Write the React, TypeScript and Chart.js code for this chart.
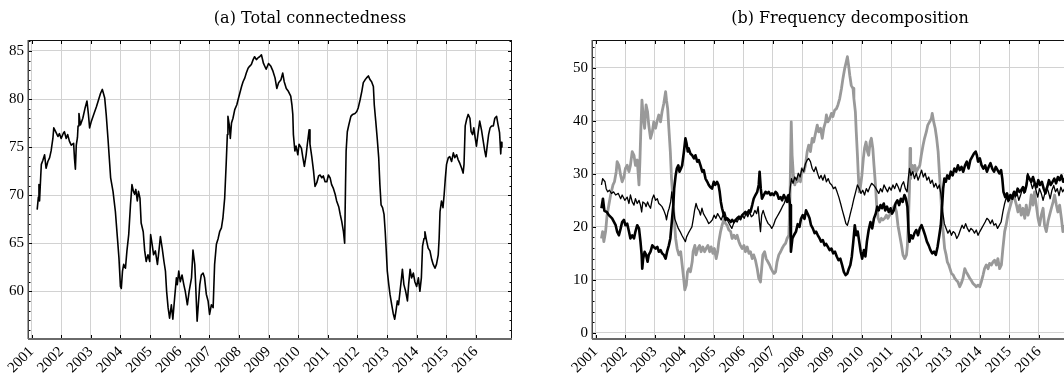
import React, { useEffect, useRef } from "react";
import { Chart, registerables } from "chart.js";

Chart.register(...registerables);

// ---------- tick labels ----------
const yearTicks = [2001, 2002, 2003, 2004, 2005, 2006, 2007, 2008, 2009, 2010, 2011, 2012, 2013, 2014, 2015, 2016];
const totalYTicks = [60, 65, 70, 75, 80, 85];
const freqYTicks = [0, 10, 20, 30, 40, 50];

const panelTitles = ["(a) Total connectedness", "(b) Frequency decomposition"];

// ---------- (a) total connectedness ----------
const totalYears = [
  2001.19, 2001.23, 2001.25, 2001.27, 2001.31, 2001.33, 2001.38, 2001.44, 2001.49, 2001.55, 2001.61, 2001.66, 2001.72, 2001.75, 2001.83, 2001.89, 2001.94,
  2002.0, 2002.08, 2002.11, 2002.17, 2002.22, 2002.28, 2002.34, 2002.42, 2002.45, 2002.48, 2002.51, 2002.55, 2002.57, 2002.6, 2002.65, 2002.73, 2002.81, 2002.87, 2002.92, 2002.96,
  2003.02, 2003.11, 2003.19, 2003.26, 2003.33, 2003.39, 2003.47, 2003.52, 2003.58, 2003.67, 2003.75, 2003.83, 2003.9, 2003.95,
  2004.0, 2004.03, 2004.07, 2004.11, 2004.17, 2004.22, 2004.28, 2004.34, 2004.39, 2004.44, 2004.48, 2004.52, 2004.57, 2004.61, 2004.66, 2004.7, 2004.77, 2004.82, 2004.87, 2004.93, 2004.99,
  2005.02, 2005.07, 2005.12, 2005.18, 2005.25, 2005.3, 2005.35, 2005.41, 2005.47, 2005.52, 2005.56, 2005.61, 2005.66, 2005.72, 2005.77, 2005.83, 2005.89, 2005.92, 2005.97,
  2006.02, 2006.08, 2006.14, 2006.19, 2006.26, 2006.32, 2006.4, 2006.45, 2006.51, 2006.54, 2006.59, 2006.63, 2006.68, 2006.73, 2006.79, 2006.84, 2006.9, 2006.96,
  2007.01, 2007.07, 2007.13, 2007.18, 2007.24, 2007.3, 2007.35, 2007.41, 2007.46, 2007.52, 2007.57, 2007.61, 2007.63, 2007.68, 2007.71, 2007.75, 2007.8, 2007.86, 2007.93, 2007.97,
  2008.03, 2008.09, 2008.14, 2008.2, 2008.25, 2008.31, 2008.36, 2008.42, 2008.48, 2008.53, 2008.59, 2008.65, 2008.7, 2008.76, 2008.83, 2008.92,
  2009.0, 2009.08, 2009.15, 2009.22, 2009.28, 2009.34, 2009.42, 2009.48, 2009.53, 2009.6, 2009.67, 2009.75, 2009.79, 2009.82, 2009.84, 2009.89, 2009.93, 2009.99,
  2010.03, 2010.11, 2010.16, 2010.21, 2010.27, 2010.31, 2010.37, 2010.4, 2010.46, 2010.52, 2010.57, 2010.63, 2010.69, 2010.74, 2010.8, 2010.85, 2010.91, 2010.97,
  2011.02, 2011.08, 2011.13, 2011.19, 2011.25, 2011.3, 2011.37, 2011.42, 2011.47, 2011.53, 2011.57, 2011.6, 2011.62, 2011.66, 2011.71, 2011.78, 2011.84, 2011.92, 2011.98,
  2012.03, 2012.09, 2012.15, 2012.2, 2012.26, 2012.31, 2012.37, 2012.43, 2012.48, 2012.54, 2012.57, 2012.62, 2012.67, 2012.72, 2012.76, 2012.8, 2012.85, 2012.9, 2012.94, 2012.97,
  2013.01, 2013.06, 2013.1, 2013.16, 2013.21, 2013.26, 2013.3, 2013.35, 2013.39, 2013.44, 2013.49, 2013.52, 2013.57, 2013.63, 2013.69, 2013.73, 2013.78, 2013.83, 2013.89, 2013.94,
  2014.0, 2014.06, 2014.11, 2014.16, 2014.2, 2014.25, 2014.28, 2014.34, 2014.39, 2014.45, 2014.51, 2014.56, 2014.62, 2014.67, 2014.73, 2014.76, 2014.79, 2014.84, 2014.89, 2014.93, 2014.97,
  2015.01, 2015.07, 2015.12, 2015.18, 2015.24, 2015.29, 2015.35, 2015.4, 2015.46, 2015.52, 2015.57, 2015.6, 2015.64, 2015.69, 2015.74, 2015.8, 2015.84, 2015.89, 2015.93, 2015.98,
  2016.02, 2016.08, 2016.13, 2016.19, 2016.25, 2016.3, 2016.34, 2016.39, 2016.43, 2016.48, 2016.53, 2016.59, 2016.64, 2016.7, 2016.75, 2016.8, 2016.84, 2016.86, 2016.88,
];
const totalValues = [
  68.5, 69.8, 71.1, 69.4, 72.0, 73.2, 73.6, 74.2, 72.8, 73.5, 73.9, 74.6, 75.9, 77.0, 76.5, 76.1, 76.4,
  75.9, 76.5, 76.6, 75.9, 76.3, 75.6, 75.2, 75.4, 73.8, 72.7, 75.2, 76.0, 77.2, 78.5, 77.3, 78.0, 79.1, 79.8, 78.4, 77.0,
  77.7, 78.5, 79.2, 79.9, 80.6, 81.0, 80.1, 78.4, 75.9, 71.8, 70.4, 68.3, 65.5, 63.5,
  60.5, 60.3, 62.1, 62.8, 62.4, 64.2, 65.9, 69.0, 71.1, 70.4, 70.1, 70.6, 69.4, 70.4, 69.7, 67.1, 66.2, 64.2, 63.1, 63.8, 63.1,
  65.9, 64.9, 63.8, 64.2, 62.8, 64.2, 65.7, 64.5, 63.1, 62.1, 60.0, 58.3, 57.2, 58.6, 57.1, 59.3, 61.4, 60.7, 62.1,
  61.0, 61.7, 60.7, 60.0, 58.6, 60.0, 61.4, 64.3, 62.8, 60.7, 56.9, 58.6, 60.7, 61.7, 61.9, 61.4, 59.7, 59.0,
  57.6, 58.6, 58.3, 62.8, 64.9, 65.5, 66.2, 66.6, 67.6, 69.7, 73.2, 76.3, 78.2, 77.2, 75.9, 77.5, 78.0, 78.9, 79.4, 79.9,
  80.6, 81.3, 81.8, 82.2, 82.7, 83.2, 83.4, 83.6, 84.1, 84.4, 84.1, 84.3, 84.4, 84.6, 83.7, 83.1,
  83.7, 83.4, 82.9, 82.2, 81.1, 81.7, 82.0, 82.7, 81.8, 81.1, 80.8, 80.3, 79.4, 78.4, 76.3, 74.6, 75.1, 74.2,
  75.3, 74.9, 73.9, 73.0, 74.2, 75.3, 76.8, 75.3, 74.0, 72.5, 70.9, 71.3, 72.0, 72.1, 71.8, 72.0, 71.4, 71.4,
  72.1, 71.8, 71.1, 70.7, 70.1, 69.4, 68.8, 68.0, 67.3, 66.2, 65.0, 71.1, 74.6, 76.6, 77.3, 78.2, 78.4, 78.5, 78.7,
  79.1, 79.9, 80.8, 81.7, 82.0, 82.2, 82.4, 82.0, 81.8, 81.3, 79.4, 77.7, 75.9, 73.9, 71.1, 69.0, 68.7, 68.0, 66.2, 64.5,
  62.1, 60.7, 59.7, 58.6, 57.7, 57.1, 57.9, 59.0, 58.6, 60.0, 61.4, 62.3, 60.7, 60.0, 59.0, 60.7, 62.3, 61.4, 61.9, 61.0,
  60.5, 61.4, 60.0, 61.4, 64.7, 65.5, 66.2, 65.2, 64.5, 64.2, 63.3, 62.8, 62.4, 62.8, 63.8, 65.5, 68.3, 69.4, 68.7, 70.1, 71.8,
  73.2, 73.9, 74.0, 73.5, 74.4, 73.9, 74.2, 73.7, 73.3, 72.8, 72.3, 73.2, 77.2, 77.9, 78.4, 78.0, 76.6, 76.3, 77.0, 75.9,
  75.1, 76.6, 77.7, 76.8, 75.6, 74.6, 74.0, 75.3, 76.3, 77.0, 77.2, 77.2, 78.0, 78.2, 77.3, 76.5, 74.3, 75.5, 75.0,
];

// ---------- (b) frequency decomposition: grey component ----------
const greyYears = [
  2001.2, 2001.24, 2001.28, 2001.34, 2001.39, 2001.45, 2001.51, 2001.59, 2001.64, 2001.7, 2001.73, 2001.79, 2001.85, 2001.9, 2001.96,
  2002.01, 2002.07, 2002.13, 2002.18, 2002.24, 2002.3, 2002.35, 2002.41, 2002.47, 2002.5, 2002.53, 2002.57, 2002.61, 2002.66, 2002.71, 2002.76, 2002.8, 2002.86, 2002.92, 2002.97,
  2003.03, 2003.09, 2003.14, 2003.2, 2003.25, 2003.31, 2003.37, 2003.4, 2003.44, 2003.48, 2003.53, 2003.57, 2003.62, 2003.66, 2003.71, 2003.76, 2003.82, 2003.88, 2003.93, 2003.98,
  2004.02, 2004.07, 2004.11, 2004.16, 2004.21, 2004.27, 2004.3, 2004.36, 2004.4, 2004.46, 2004.52, 2004.57, 2004.63, 2004.69, 2004.74, 2004.8, 2004.86, 2004.91, 2004.97,
  2005.02, 2005.08, 2005.13, 2005.17, 2005.23, 2005.28, 2005.34, 2005.4, 2005.45, 2005.51, 2005.57, 2005.62, 2005.68, 2005.74, 2005.79, 2005.85, 2005.9, 2005.96,
  2006.02, 2006.07, 2006.13, 2006.19, 2006.24, 2006.3, 2006.35, 2006.41, 2006.47, 2006.52, 2006.58, 2006.61, 2006.66, 2006.72, 2006.77, 2006.83, 2006.89, 2006.94,
  2007.0, 2007.04, 2007.09, 2007.14, 2007.2, 2007.26, 2007.31, 2007.37, 2007.43, 2007.48, 2007.54, 2007.58, 2007.62, 2007.65, 2007.7, 2007.74, 2007.79, 2007.83, 2007.88, 2007.93, 2007.99,
  2008.05, 2008.1, 2008.16, 2008.21, 2008.27, 2008.33, 2008.38, 2008.44, 2008.5, 2008.55, 2008.61, 2008.67, 2008.72, 2008.78, 2008.81, 2008.86, 2008.92, 2008.98,
  2009.03, 2009.09, 2009.15, 2009.2, 2009.26, 2009.32, 2009.37, 2009.43, 2009.48, 2009.52, 2009.56, 2009.6, 2009.65, 2009.71, 2009.74, 2009.79, 2009.82, 2009.86, 2009.89, 2009.92, 2009.97,
  2010.01, 2010.06, 2010.1, 2010.15, 2010.2, 2010.24, 2010.29, 2010.33, 2010.38, 2010.42, 2010.47, 2010.51, 2010.56, 2010.61, 2010.67, 2010.72, 2010.78, 2010.84, 2010.89, 2010.95,
  2011.01, 2011.06, 2011.12, 2011.18, 2011.23, 2011.29, 2011.35, 2011.4, 2011.46, 2011.52, 2011.55, 2011.58, 2011.62, 2011.64, 2011.66, 2011.71, 2011.75, 2011.8, 2011.85, 2011.91, 2011.97,
  2012.02, 2012.08, 2012.13, 2012.19, 2012.24, 2012.3, 2012.36, 2012.39, 2012.44, 2012.49, 2012.54, 2012.59, 2012.63, 2012.68, 2012.72, 2012.77, 2012.81, 2012.86, 2012.9, 2012.95, 2012.99,
  2013.04, 2013.1, 2013.15, 2013.21, 2013.26, 2013.32, 2013.37, 2013.43, 2013.49, 2013.54, 2013.6, 2013.66, 2013.71, 2013.77, 2013.83, 2013.88, 2013.94,
  2014.0, 2014.05, 2014.11, 2014.16, 2014.22, 2014.28, 2014.33, 2014.39, 2014.45, 2014.5, 2014.56, 2014.61, 2014.67, 2014.73, 2014.78, 2014.84, 2014.9, 2014.95,
  2015.01, 2015.07, 2015.12, 2015.18, 2015.24, 2015.29, 2015.35, 2015.4, 2015.46, 2015.52, 2015.57, 2015.63, 2015.69, 2015.74, 2015.8, 2015.85, 2015.91, 2015.97,
  2016.02, 2016.08, 2016.14, 2016.19, 2016.25, 2016.31, 2016.36, 2016.42, 2016.48, 2016.53, 2016.59, 2016.64, 2016.7, 2016.76, 2016.81, 2016.87,
];
const greyValues = [
  17.8, 19.1, 17.2, 19.1, 22.2, 24.1, 26.0, 27.9, 28.5, 30.4, 32.3, 31.6, 29.7, 28.5, 29.4,
  31.0, 31.6, 30.4, 31.6, 34.2, 33.5, 31.6, 32.6, 27.9, 32.3, 37.9, 43.9, 41.1, 38.6, 43.0, 41.7, 39.2, 36.7, 37.9, 39.8,
  38.6, 40.1, 41.1, 39.8, 41.7, 43.3, 45.5, 43.9, 42.3, 38.6, 34.2, 29.1, 25.3, 21.6, 17.8, 15.9, 14.7, 15.3, 12.8, 10.3,
  8.1, 9.0, 11.5, 12.1, 11.5, 13.4, 15.3, 16.5, 14.7, 15.9, 16.5, 15.3, 16.2, 15.3, 15.9, 16.5, 15.3, 16.2, 15.0,
  15.9, 14.0, 15.3, 17.2, 19.1, 20.3, 21.3, 20.6, 20.3, 19.4, 19.1, 17.8, 18.4, 17.8, 18.4, 17.2, 16.5, 15.9,
  16.5, 15.3, 16.2, 15.0, 15.3, 14.0, 14.7, 13.7, 12.1, 10.3, 9.6, 11.5, 14.7, 15.3, 14.0, 13.4, 12.8, 12.1,
  11.5, 11.2, 11.5, 13.4, 14.7, 15.3, 15.9, 16.5, 16.9, 17.8, 18.4, 26.0, 39.8, 33.5, 29.1, 27.9, 29.1, 28.5, 29.7, 28.5, 31.0,
  30.4, 31.6, 34.2, 35.4, 34.2, 36.7, 36.0, 37.6, 39.2, 37.9, 38.6, 36.7, 38.6, 39.8, 41.1, 39.8, 40.4, 41.4,
  40.8, 42.0, 42.3, 43.0, 44.2, 46.1, 48.0, 49.9, 51.1, 52.1, 50.5, 48.6, 46.7, 46.1, 44.2, 41.7, 37.9, 33.5, 29.7, 26.6, 27.9,
  29.7, 32.9, 34.8, 36.0, 34.2, 33.5, 36.0, 36.7, 34.8, 31.6, 27.9, 24.1, 21.6, 20.9, 21.6, 21.3, 21.6, 22.2, 21.6, 22.2,
  22.8, 23.5, 24.1, 22.8, 20.3, 18.4, 16.5, 14.7, 14.0, 14.7, 16.5, 20.3, 27.2, 34.8, 29.1, 31.6, 30.4, 31.6, 30.4, 31.0, 31.6,
  33.5, 35.4, 36.7, 37.9, 39.2, 39.8, 40.4, 41.4, 39.8, 38.6, 36.7, 34.2, 30.4, 26.0, 21.6, 18.4, 15.9, 14.7, 13.4, 12.8, 12.1,
  11.2, 10.9, 10.3, 9.9, 9.6, 8.7, 9.3, 10.3, 12.1, 11.5, 10.9, 10.3, 9.9, 9.3, 9.0, 8.7, 9.0,
  8.7, 9.6, 10.9, 12.1, 12.8, 12.1, 13.1, 12.8, 13.4, 13.7, 12.8, 14.0, 12.1, 12.8, 15.9, 19.1, 20.6, 22.2,
  23.5, 24.7, 26.0, 25.3, 24.1, 22.8, 24.1, 22.2, 23.5, 21.6, 24.1, 22.2, 23.5, 26.0, 24.1, 26.6, 24.1, 21.6,
  20.3, 22.2, 23.5, 20.3, 19.1, 21.1, 22.2, 23.5, 24.7, 26.0, 24.1, 22.8, 24.1, 21.6, 19.1, 20.3,
];

// ---------- (b) thick black component ----------
const thickYears = [
  2001.2, 2001.25, 2001.3, 2001.38, 2001.45, 2001.56, 2001.68, 2001.73, 2001.79, 2001.85, 2001.9, 2001.96,
  2002.01, 2002.07, 2002.13, 2002.18, 2002.24, 2002.3, 2002.35, 2002.41, 2002.47, 2002.52, 2002.56, 2002.58, 2002.61, 2002.66, 2002.71, 2002.76, 2002.8, 2002.86, 2002.92, 2002.97,
  2003.03, 2003.09, 2003.14, 2003.2, 2003.25, 2003.31, 2003.37, 2003.42, 2003.48, 2003.53, 2003.59, 2003.63, 2003.66, 2003.71, 2003.75, 2003.8, 2003.84, 2003.89, 2003.93, 2003.99,
  2004.04, 2004.08, 2004.12, 2004.15, 2004.21, 2004.27, 2004.33, 2004.38, 2004.44, 2004.49, 2004.55, 2004.61, 2004.66, 2004.72, 2004.78, 2004.83, 2004.88, 2004.94,
  2005.0, 2005.05, 2005.11, 2005.16, 2005.2, 2005.24, 2005.28, 2005.34, 2005.4, 2005.45, 2005.51, 2005.57, 2005.62, 2005.68, 2005.74, 2005.79, 2005.85, 2005.9, 2005.96,
  2006.02, 2006.07, 2006.13, 2006.19, 2006.24, 2006.3, 2006.35, 2006.41, 2006.47, 2006.52, 2006.55, 2006.59, 2006.63, 2006.69, 2006.75, 2006.81, 2006.86, 2006.92, 2006.97,
  2007.03, 2007.09, 2007.14, 2007.2, 2007.26, 2007.31, 2007.37, 2007.43, 2007.48, 2007.54, 2007.58, 2007.61, 2007.66, 2007.72, 2007.78, 2007.84, 2007.9, 2007.95,
  2008.01, 2008.07, 2008.12, 2008.18, 2008.24, 2008.29, 2008.35, 2008.41, 2008.46, 2008.52, 2008.58, 2008.63, 2008.69, 2008.75, 2008.8, 2008.86, 2008.92, 2008.98,
  2009.04, 2009.1, 2009.16, 2009.22, 2009.28, 2009.34, 2009.4, 2009.46, 2009.52, 2009.57, 2009.62, 2009.67, 2009.72, 2009.77, 2009.82, 2009.87, 2009.92, 2009.97,
  2010.02, 2010.08, 2010.13, 2010.18, 2010.24, 2010.3, 2010.36, 2010.42, 2010.48, 2010.53, 2010.58, 2010.64, 2010.69, 2010.75, 2010.8, 2010.86, 2010.92, 2010.98,
  2011.03, 2011.09, 2011.15, 2011.21, 2011.27, 2011.33, 2011.39, 2011.45, 2011.5, 2011.55, 2011.59, 2011.62, 2011.67, 2011.73, 2011.79, 2011.85, 2011.91, 2011.97,
  2012.03, 2012.09, 2012.15, 2012.21, 2012.27, 2012.33, 2012.39, 2012.45, 2012.51, 2012.57, 2012.63, 2012.68, 2012.72, 2012.76, 2012.8, 2012.85, 2012.9, 2012.96,
  2013.02, 2013.08, 2013.14, 2013.2, 2013.26, 2013.32, 2013.38, 2013.44, 2013.5, 2013.56, 2013.62, 2013.68, 2013.74, 2013.8, 2013.86, 2013.9, 2013.94,
  2014.0, 2014.06, 2014.12, 2014.18, 2014.24, 2014.3, 2014.36, 2014.42, 2014.48, 2014.54, 2014.6, 2014.66, 2014.72, 2014.76, 2014.8, 2014.86, 2014.92, 2014.98,
  2015.04, 2015.1, 2015.16, 2015.22, 2015.28, 2015.34, 2015.4, 2015.46, 2015.52, 2015.58, 2015.62, 2015.68, 2015.74, 2015.8, 2015.86, 2015.92, 2015.98,
  2016.04, 2016.1, 2016.16, 2016.22, 2016.28, 2016.34, 2016.4, 2016.46, 2016.52, 2016.58, 2016.64, 2016.7, 2016.76, 2016.82, 2016.87,
];
const thickValues = [
  23.5, 25.3, 23.0, 22.8, 22.2, 21.6, 20.3, 19.1, 18.4, 19.7, 20.9, 21.3,
  20.3, 20.6, 19.1, 17.8, 18.4, 17.8, 19.1, 20.3, 19.7, 17.2, 14.7, 12.1, 14.0, 15.3, 14.7, 13.4, 14.7, 15.3, 16.5, 16.2,
  15.9, 16.2, 15.3, 15.6, 15.0, 14.7, 14.0, 15.3, 16.5, 17.8, 21.6, 24.1, 27.2, 29.7, 31.0, 31.6, 30.4, 31.0, 31.6, 34.2,
  36.7, 35.7, 34.2, 34.8, 33.8, 33.5, 32.9, 33.5, 32.3, 32.6, 31.6, 30.4, 30.7, 29.1, 28.5, 27.9, 27.5, 27.2,
  28.5, 27.9, 28.5, 27.9, 26.6, 24.7, 23.5, 22.2, 21.3, 21.6, 21.3, 20.9, 21.3, 20.9, 21.3, 21.6, 21.9, 21.6, 22.2,
  22.5, 22.8, 22.5, 23.1, 22.8, 24.1, 25.3, 26.0, 26.6, 27.9, 30.4, 27.2, 25.3, 26.0, 26.6, 26.3, 26.6, 26.0, 26.3,
  26.0, 26.6, 26.3, 25.3, 25.6, 25.0, 26.0, 25.3, 24.7, 26.0, 24.1, 15.3, 17.8, 18.5, 19.1, 20.5, 20.0, 21.5,
  22.2, 21.5, 23.1, 22.4, 21.6, 20.3, 19.7, 18.8, 19.1, 18.4, 17.8, 17.2, 17.5, 16.5, 16.8, 16.2, 15.6, 15.9,
  15.0, 15.3, 14.4, 13.7, 14.0, 12.8, 11.5, 10.9, 11.2, 12.1, 12.8, 14.4, 17.2, 20.3, 18.4, 19.1, 17.2, 15.3,
  14.0, 15.6, 14.4, 17.2, 19.4, 20.9, 19.7, 21.6, 22.5, 23.8, 23.1, 24.1, 23.5, 24.4, 23.1, 23.8, 22.8, 23.5,
  22.5, 23.1, 24.4, 25.0, 24.1, 25.3, 24.7, 26.0, 25.3, 23.8, 19.1, 17.2, 18.4, 17.8, 18.8, 19.4, 18.4, 19.7,
  20.3, 19.4, 18.4, 17.2, 16.5, 15.6, 15.0, 15.3, 14.7, 16.2, 18.4, 20.3, 23.5, 27.2, 29.1, 28.5, 29.7, 29.1,
  30.4, 29.7, 31.0, 30.4, 31.6, 30.7, 31.3, 30.4, 31.6, 32.3, 31.0, 32.6, 33.2, 33.8, 34.2, 33.5, 32.3,
  32.9, 31.6, 31.0, 31.6, 30.4, 31.3, 32.0, 31.0, 30.4, 31.3, 30.7, 30.1, 30.7, 29.1, 26.6, 25.6, 26.3, 25.0,
  26.0, 25.3, 26.6, 26.0, 27.2, 26.6, 26.9, 27.5, 26.6, 27.9, 29.7, 29.1, 28.5, 29.4, 28.2, 27.5, 28.8,
  27.9, 28.5, 27.2, 26.3, 27.5, 28.8, 27.9, 28.5, 29.1, 28.2, 29.4, 28.8, 29.7, 28.5, 29.1,
];

// ---------- (b) thin black component ----------
const thinYears = [
  2001.2, 2001.24, 2001.32, 2001.36, 2001.41, 2001.47, 2001.54, 2001.61, 2001.68, 2001.77, 2001.85, 2001.9, 2001.99,
  2002.07, 2002.13, 2002.18, 2002.24, 2002.3, 2002.35, 2002.41, 2002.47, 2002.52, 2002.56, 2002.6, 2002.67, 2002.71, 2002.76, 2002.8, 2002.86, 2002.92, 2002.97,
  2003.03, 2003.09, 2003.14, 2003.2, 2003.25, 2003.31, 2003.37, 2003.4, 2003.45, 2003.49, 2003.54, 2003.58, 2003.62, 2003.68, 2003.74, 2003.8, 2003.86, 2003.92, 2003.98,
  2004.04, 2004.08, 2004.14, 2004.2, 2004.26, 2004.31, 2004.35, 2004.4, 2004.45, 2004.5, 2004.55, 2004.6, 2004.65, 2004.71, 2004.77, 2004.83, 2004.89, 2004.95,
  2005.01, 2005.07, 2005.13, 2005.19, 2005.25, 2005.31, 2005.37, 2005.43, 2005.49, 2005.55, 2005.61, 2005.67, 2005.73, 2005.79, 2005.85, 2005.91, 2005.97,
  2006.03, 2006.09, 2006.15, 2006.21, 2006.27, 2006.33, 2006.39, 2006.45, 2006.5, 2006.54, 2006.58, 2006.62, 2006.67, 2006.72, 2006.78, 2006.84, 2006.9, 2006.96,
  2007.02, 2007.08, 2007.14, 2007.2, 2007.26, 2007.32, 2007.38, 2007.44, 2007.5, 2007.55, 2007.59, 2007.63, 2007.68, 2007.74, 2007.8, 2007.86, 2007.92, 2007.98,
  2008.04, 2008.1, 2008.16, 2008.21, 2008.27, 2008.33, 2008.39, 2008.45, 2008.51, 2008.57, 2008.63, 2008.69, 2008.75, 2008.81, 2008.87, 2008.93, 2008.99,
  2009.05, 2009.11, 2009.17, 2009.23, 2009.29, 2009.35, 2009.41, 2009.47, 2009.52, 2009.57, 2009.62, 2009.68, 2009.74, 2009.8, 2009.86, 2009.92, 2009.98,
  2010.04, 2010.1, 2010.16, 2010.22, 2010.28, 2010.34, 2010.4, 2010.46, 2010.52, 2010.58, 2010.64, 2010.7, 2010.76, 2010.82, 2010.88, 2010.94,
  2011.0, 2011.06, 2011.12, 2011.18, 2011.24, 2011.3, 2011.36, 2011.42, 2011.48, 2011.54, 2011.58, 2011.62, 2011.67, 2011.73, 2011.79, 2011.85, 2011.91, 2011.97,
  2012.03, 2012.09, 2012.15, 2012.21, 2012.27, 2012.33, 2012.39, 2012.45, 2012.51, 2012.57, 2012.63, 2012.68, 2012.72, 2012.76, 2012.8, 2012.86, 2012.92, 2012.98,
  2013.04, 2013.1, 2013.16, 2013.22, 2013.28, 2013.34, 2013.4, 2013.46, 2013.52, 2013.58, 2013.64, 2013.7, 2013.76, 2013.82, 2013.88, 2013.94,
  2014.0, 2014.06, 2014.12, 2014.18, 2014.24, 2014.3, 2014.36, 2014.42, 2014.48, 2014.54, 2014.6, 2014.66, 2014.72, 2014.78, 2014.84, 2014.9, 2014.96,
  2015.02, 2015.08, 2015.14, 2015.2, 2015.26, 2015.32, 2015.38, 2015.44, 2015.5, 2015.56, 2015.62, 2015.66, 2015.72, 2015.78, 2015.84, 2015.9, 2015.96,
  2016.02, 2016.08, 2016.14, 2016.2, 2016.26, 2016.32, 2016.38, 2016.44, 2016.5, 2016.56, 2016.62, 2016.68, 2016.74, 2016.8, 2016.87,
];
const thinValues = [
  27.9, 29.1, 28.5, 27.2, 26.6, 26.9, 26.3, 26.6, 26.0, 26.3, 25.3, 26.0, 25.0,
  25.6, 24.4, 26.0, 24.7, 24.1, 25.3, 24.4, 25.0, 24.1, 22.8, 24.7, 24.4, 23.8, 24.7, 24.1, 23.5, 25.3, 26.0,
  25.0, 25.3, 24.4, 24.1, 23.8, 23.1, 22.2, 21.3, 22.8, 23.5, 24.7, 26.6, 24.5, 21.5, 20.6, 19.7, 19.1, 18.4, 17.8,
  17.2, 18.1, 18.8, 19.4, 20.0, 21.6, 23.1, 24.4, 23.5, 23.1, 22.2, 23.5, 22.5, 21.9, 21.3, 20.6, 20.9, 21.3,
  22.2, 21.6, 22.5, 21.9, 21.3, 22.2, 22.8, 21.6, 20.9, 20.3, 19.7, 20.6, 21.3, 20.9, 21.6, 21.3, 22.2,
  21.6, 22.5, 21.9, 22.8, 21.9, 22.2, 23.1, 22.5, 23.8, 21.3, 19.1, 22.2, 23.1, 22.2, 21.3, 20.6, 20.3, 19.7,
  20.3, 21.3, 21.9, 22.5, 23.1, 23.8, 24.4, 25.3, 26.0, 25.3, 27.5, 29.1, 28.2, 29.4, 28.8, 30.1, 29.4, 31.0,
  30.4, 31.9, 32.6, 32.9, 32.3, 31.0, 30.4, 31.3, 30.1, 29.1, 29.7, 28.8, 29.8, 28.5, 29.1, 28.2, 27.9,
  27.2, 27.5, 26.6, 25.6, 24.4, 23.1, 21.9, 20.6, 20.3, 21.3, 22.5, 23.8, 25.3, 26.6, 27.9, 27.2, 26.3,
  26.9, 26.0, 27.2, 26.6, 27.5, 28.2, 27.9, 27.5, 26.9, 26.3, 27.2, 26.6, 27.9, 27.2, 26.6, 27.5,
  26.9, 27.9, 27.2, 28.2, 27.5, 26.6, 27.9, 28.5, 27.2, 26.6, 29.1, 31.0, 29.7, 30.4, 29.1, 30.1, 28.8, 29.7,
  30.7, 29.4, 30.1, 28.8, 29.4, 28.2, 28.8, 27.5, 28.2, 27.2, 27.9, 26.3, 24.4, 22.2, 20.6, 19.7, 18.8, 19.4,
  18.4, 19.1, 18.8, 17.8, 18.4, 19.4, 20.3, 19.7, 20.6, 19.7, 19.1, 19.7, 19.4, 18.8, 19.4, 18.4,
  19.1, 19.7, 20.3, 20.9, 21.6, 21.3, 20.6, 21.3, 20.3, 20.6, 19.7, 20.3, 20.9, 22.8, 24.4, 25.6, 24.7,
  26.0, 25.3, 26.6, 25.6, 26.3, 25.0, 26.0, 27.2, 26.3, 27.5, 30.1, 29.4, 28.5, 27.2, 28.2, 26.9, 25.6,
  27.2, 26.3, 25.0, 26.3, 27.5, 26.6, 25.3, 26.9, 27.8, 26.6, 27.2, 25.9, 27.5, 26.6, 27.2,
];

// ---------- helpers ----------
const toPoints = (xs: number[], ys: number[]) => xs.map((x, i) => ({ x, y: ys[i] }));

const TITLE_FONT = "'DejaVu Serif', 'Liberation Serif', serif";
const TICK_FONT = "'Liberation Serif', 'DejaVu Serif', serif";

const frameTicksPlugin = {
  id: "frameTicks",
  afterDatasetsDraw(chart: any, _args: any, opts: any) {
    const { ctx, chartArea } = chart;
    const { left, right, top, bottom } = chartArea;
    const xs = chart.scales.x;
    const ys = chart.scales.y;
    ctx.save();
    ctx.strokeStyle = "#000";
    ctx.lineWidth = 1;
    xs.ticks.forEach((t: any) => {
      const px = Math.round(xs.getPixelForValue(t.value)) + 0.5;
      ctx.beginPath();
      ctx.moveTo(px, bottom);
      ctx.lineTo(px, bottom - 4);
      ctx.moveTo(px, top);
      ctx.lineTo(px, top + 4);
      ctx.stroke();
    });
    const majors = ys.ticks.map((t: any) => t.value);
    majors.forEach((v: number) => {
      const py = Math.round(ys.getPixelForValue(v)) + 0.5;
      ctx.beginPath();
      ctx.moveTo(left, py);
      ctx.lineTo(left + 4, py);
      ctx.moveTo(right, py);
      ctx.lineTo(right - 4, py);
      ctx.stroke();
    });
    const step = opts.minorStep || 1;
    for (let v = Math.ceil(ys.min / step) * step; v <= ys.max; v += step) {
      if (majors.some((m: number) => Math.abs(m - v) < 1e-6)) continue;
      const py = Math.round(ys.getPixelForValue(v)) + 0.5;
      ctx.beginPath();
      ctx.moveTo(left, py);
      ctx.lineTo(left + 2.5, py);
      ctx.moveTo(right, py);
      ctx.lineTo(right - 2.5, py);
      ctx.stroke();
    }
    ctx.strokeStyle = "#111";
    ctx.lineWidth = 1;
    ctx.beginPath();
    ctx.moveTo(left, top + 0.5);
    ctx.lineTo(right, top + 0.5);
    ctx.moveTo(right - 0.5, top);
    ctx.lineTo(right - 0.5, bottom);
    ctx.stroke();
    ctx.strokeStyle = "#4a4a4a";
    ctx.lineWidth = 1.5;
    ctx.beginPath();
    ctx.moveTo(left + 0.25, top);
    ctx.lineTo(left + 0.25, bottom);
    ctx.stroke();
    ctx.strokeStyle = "#6a6a6a";
    ctx.lineWidth = 2;
    ctx.beginPath();
    ctx.moveTo(left, bottom);
    ctx.lineTo(right, bottom);
    ctx.stroke();
    ctx.restore();
  },
};

function makeConfig(opts: {
  datasets: any[];
  yMin: number;
  yMax: number;
  yTicks: number[];
  minorStep: number;
  areaLeft: number;
  areaRight: number;
  canvasWidth: number;
}) {
  const top = 40;
  const bottom = 339;
  return {
    type: "line",
    data: { datasets: opts.datasets },
    plugins: [frameTicksPlugin],
    options: {
      responsive: false,
      animation: false,
      events: [],
      layout: { padding: { left: 0, top, right: opts.canvasWidth - opts.areaRight, bottom: 0 } },
      plugins: {
        legend: { display: false },
        tooltip: { enabled: false },
        title: { display: false },
        frameTicks: { minorStep: opts.minorStep },
      },
      elements: { point: { radius: 0 }, line: { tension: 0, borderJoinStyle: "round" } },
      scales: {
        x: {
          type: "linear",
          min: 2000.88,
          max: 2017.22,
          afterBuildTicks: (scale: any) => {
            scale.ticks = yearTicks.map((v) => ({ value: v }));
          },
          afterFit: (scale: any) => {
            scale.height = 383 - bottom;
          },
          ticks: {
            autoSkip: false,
            minRotation: 45,
            maxRotation: 45,
            padding: 4,
            color: "#000",
            font: { family: TICK_FONT, size: 15 },
            callback: (v: any) => String(v),
          },
          grid: { color: "#d2d2d2", lineWidth: 1, drawTicks: false },
          border: { display: false },
        },
        y: {
          type: "linear",
          min: opts.yMin,
          max: opts.yMax,
          afterBuildTicks: (scale: any) => {
            scale.ticks = opts.yTicks.map((v) => ({ value: v }));
          },
          afterFit: (scale: any) => {
            scale.width = opts.areaLeft;
          },
          ticks: {
            padding: 4,
            color: "#000",
            font: { family: TICK_FONT, size: 15 },
            callback: (v: any) => String(v),
          },
          grid: { color: "#d2d2d2", lineWidth: 1, drawTicks: false },
          border: { display: false },
        },
      },
    },
  } as any;
}

export default function App() {
  const leftRef = useRef<HTMLCanvasElement | null>(null);
  const rightRef = useRef<HTMLCanvasElement | null>(null);

  useEffect(() => {
    const leftChart = new Chart(
      leftRef.current as HTMLCanvasElement,
      makeConfig({
        datasets: [
          {
            data: toPoints(totalYears, totalValues),
            borderColor: "#000",
            borderWidth: 1.6,
            fill: false,
          },
        ],
        yMin: 55.04,
        yMax: 86.14,
        yTicks: totalYTicks,
        minorStep: 1,
        areaLeft: 28,
        areaRight: 512,
        canvasWidth: 540,
      })
    );
    const rightChart = new Chart(
      rightRef.current as HTMLCanvasElement,
      makeConfig({
        datasets: [
          { data: toPoints(thinYears, thinValues), borderColor: "#000", borderWidth: 1.3, fill: false },
          { data: toPoints(thickYears, thickValues), borderColor: "#000", borderWidth: 2.6, fill: false },
          { data: toPoints(greyYears, greyValues), borderColor: "#999999", borderWidth: 2.8, fill: false },
        ],
        yMin: -1.17,
        yMax: 55.25,
        yTicks: freqYTicks,
        minorStep: 2,
        areaLeft: 32,
        areaRight: 515,
        canvasWidth: 560,
      })
    );
    return () => {
      leftChart.destroy();
      rightChart.destroy();
    };
  }, []);

  const titleStyle = (cx: number): React.CSSProperties => ({
    position: "absolute",
    left: cx - 200,
    width: 400,
    top: 8,
    height: 20,
    lineHeight: "20px",
    textAlign: "center",
    fontFamily: TITLE_FONT,
    fontSize: 16,
    color: "#000",
    whiteSpace: "nowrap",
  });

  return (
    <div
      style={{
        position: "fixed",
        left: 0,
        top: 0,
        width: 1064,
        height: 383,
        overflow: "hidden",
        background: "#fff",
      }}
    >
      <canvas
        ref={leftRef}
        width={540}
        height={383}
        style={{ position: "absolute", left: 0, top: 0, width: 540, height: 383 }}
      />
      <canvas
        ref={rightRef}
        width={560}
        height={383}
        style={{ position: "absolute", left: 560, top: 0, width: 560, height: 383 }}
      />
      <div style={titleStyle(310)}>{panelTitles[0]}</div>
      <div style={titleStyle(850)}>{panelTitles[1]}</div>
    </div>
  );
}
